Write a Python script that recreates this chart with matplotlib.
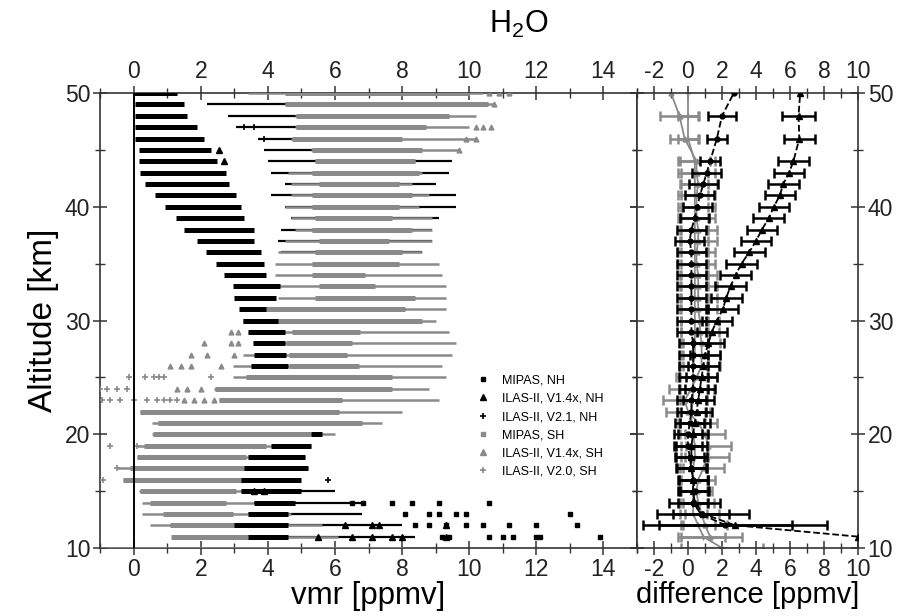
import numpy as np
import matplotlib.pyplot as plt
from matplotlib.ticker import MultipleLocator

plt.rcParams['font.family'] = ['Liberation Sans Narrow', 'Liberation Sans', 'DejaVu Sans']
plt.rcParams['axes.unicode_minus'] = False

BLACK = '#000000'
GRAY = '#8a8a8a'

# ---- left panel: vmr bands per altitude (km, ppmv) ----
# MIPAS NH, dense black band
nh_alt = [50, 49, 48, 47, 46, 45, 44, 43, 42, 41, 40, 39, 38, 37, 36, 35, 34, 33, 32, 31,
          30, 29, 28, 27, 26, 20, 19, 18, 17, 16, 15, 14, 13, 12, 11]
nh_lo = [0.0, 0.05, 0.05, 0.05, 0.05, 0.15, 0.15, 0.2, 0.35, 0.65, 0.95, 1.25, 1.5, 1.9, 2.15,
         2.45, 2.7, 2.95, 3.0, 3.15, 3.25, 3.4, 3.55, 3.6, 3.5, 5.3, 4.1, 3.4, 3.3, 3.2, 3.2,
         3.6, 3.4, 3.0, 3.4]
nh_hi = [1.3, 1.5, 1.6, 1.9, 2.1, 2.3, 2.5, 2.75, 2.85, 3.05, 3.2, 3.3, 3.6, 3.6, 3.8, 3.9,
         3.95, 4.35, 4.25, 3.95, 4.3, 4.5, 4.5, 4.55, 4.6, 5.6, 5.3, 5.1, 5.2, 5.0, 5.0, 4.8,
         4.6, 4.6, 4.6]

# ILAS-II V2.1 NH, sparse black spread
v21_alt = [49, 48, 47, 46, 45, 44, 43, 42, 41, 40, 39, 38, 37, 36, 15, 14, 13, 12, 11]
v21_lo = [2.2, 2.8, 3.05, 3.7, 3.9, 4.0, 4.1, 4.5, 4.1, 4.5, 4.7, 4.4, 4.3, 4.4, 3.2, 3.6, 3.4, 2.9, 3.4]
v21_hi = [4.6, 4.9, 4.9, 4.8, 5.4, 9.5, 9.4, 9.0, 9.6, 9.6, 9.1, 8.9, 8.9, 8.6, 6.0, 6.9, 6.8, 8.0, 8.4]

# MIPAS SH, gray band: full spread and dense core
sh_alt = [50, 49, 48, 47, 46, 45, 44, 43, 42, 41, 40, 39, 38, 37, 36, 35, 34, 33, 32, 31, 30,
          29, 28, 27, 26, 25, 24, 23, 22, 21, 20, 19, 18, 17, 16, 15, 14, 13, 12, 11, 10]
sh_lo = [3.4, 4.5, 4.8, 4.8, 4.7, 5.3, 5.4, 4.6, 4.7, 4.7, 4.5, 4.7, 4.8, 4.5, 4.3, 4.2, 4.2,
         4.1, 4.3, 3.35, 3.25, 3.4, 3.55, 3.25, 2.96, 2.96, 2.4, 2.56, 0.2, 0.54, 0.54, 0.1,
         0.1, -0.5, -0.3, 0.15, 0.25, 0.25, 0.49, 1.15, -0.99]
sh_hi = [10.4, 10.75, 10.2, 10.0, 10.2, 9.7, 8.4, 8.6, 8.3, 8.8, 8.5, 8.9, 8.9, 8.9, 8.6, 9.1,
         9.2, 9.3, 9.3, 9.3, 9.0, 9.4, 9.6, 9.5, 9.2, 9.3, 8.8, 9.1, 8.0, 7.4, 6.0, 5.3, 5.1,
         5.2, 4.9, 4.1, 3.6, 4.7, 5.6, 6.1, 8.0]
sh_core_lo = [4.5, 4.5, 4.83, 4.83, 4.73, 5.33, 5.42, 5.33, 5.52, 5.33, 5.33, 5.42, 5.33, 5.52,
              5.42, 5.33, 5.33, 5.52, 5.42, 3.35, 3.25, 4.73, 4.54, 4.64, 4.64, 3.35, 2.42,
              2.56, 0.2, 0.74, 0.59, 0.3, 0.1, -0.1, -0.3, 0.2, 0.49, 0.89, 1.08, 1.13, np.nan]
sh_core_hi = [10.0, 10.55, 9.4, 8.7, 8.0, 8.6, 8.4, 8.5, 7.9, 8.3, 7.9, 7.7, 8.3, 7.6, 8.0,
              7.9, 6.9, 7.2, 8.4, 8.1, 8.6, 6.76, 6.51, 6.36, 6.71, 7.69, 7.69, 6.21, 6.11,
              6.8, 5.3, 3.94, 3.35, 3.35, 3.25, 3.06, 2.76, 2.96, 3.75, 4.54, np.nan]

# isolated profiles
nh_pt_alt = [14, 14, 14, 14, 14, 14, 13, 13, 13, 13, 13, 13, 12, 12, 12, 12, 12, 12, 12, 12,
             11, 11, 11, 11, 11, 11, 11, 11]
nh_pt_x = [6.5, 6.85, 7.7, 8.3, 9.1, 10.6, 8.1, 8.8, 9.1, 9.6, 9.9, 13.0, 8.4, 8.8, 9.3, 9.9,
           10.4, 11.2, 12.0, 13.2, 9.2, 9.4, 10.6, 11.0, 11.3, 12.0, 12.1, 13.9]
v14nh_pt_alt = [11, 11, 11, 11, 11, 11, 12, 12, 12, 12, 15, 15, 45, 44]
v14nh_pt_x = [5.5, 6.5, 7.1, 7.7, 8.0, 9.3, 6.3, 7.1, 7.3, 9.3, 3.6, 3.9, 2.55, 2.7]
v21_pt_alt = [16, 47, 47, 46]
v21_pt_x = [5.8, 3.3, 3.6, 3.9]
v14sh_pt_alt = [50, 50, 50, 49, 47, 47, 47, 46, 46, 45, 29, 29, 28, 28, 28, 27, 27, 27,
                26, 26, 26, 26, 24, 24, 24, 23, 23, 23, 23]
v14sh_pt_x = [10.6, 10.9, 11.2, 10.75, 10.2, 10.4, 10.65, 9.9, 10.2, 9.7, 2.9, 3.1, 2.1, 2.9,
              3.1, 1.7, 2.2, 3.0, 1.1, 1.4, 1.7, 2.6, 1.3, 1.6, 2.0, 1.5, 1.8, 2.1, 2.4]
v20sh_pt_alt = [25, 25, 25, 25, 25, 25, 24, 24, 24, 24, 23, 23, 23, 23, 23, 23, 23, 23, 23,
                19, 19, 17, 16]
v20sh_pt_x = [-0.15, 0.35, 0.6, 0.75, 0.9, 2.3, -1.0, -0.8, -0.5, -0.2, -0.95, -0.7, -0.4,
              0.0, 0.4, 0.7, 0.9, 1.1, 1.3, -0.7, 0.1, -0.5, -0.9]

# ---- right panel: differences (ppmv) ----
diff_alt = [10, 11, 12, 13, 14, 15, 16, 17, 18, 19, 20, 21, 22, 23, 24, 25, 26, 27, 28, 29,
            30, 31, 32, 33, 34, 35, 36, 37, 38, 39, 40, 41, 42, 43, 44, 46, 48, 50]
v14nh_diff = [np.nan, 10.0, 2.75, 0.9, 0.4, 0.3, 0.3, 0.2, 0.2, 0.2, 0.3, 0.4, 0.5, 0.6, 0.7,
              0.8, 0.9, 1.0, 1.2, 1.4, 1.7, 2.05, 2.25, 2.5, 2.8, 3.15, 3.6, 4.0, 4.35, 4.75,
              5.05, 5.4, 5.6, 5.95, 6.2, 6.55, 6.5, 6.6]
v14nh_err = [np.nan, np.nan, 5.4, 2.7, 1.5, 0.9, 0.9, 0.9, 0.9, 0.9, 0.9, 0.9, 0.9, 0.9, 0.9,
             0.9, 0.9, 0.9, 0.9, 0.9, 0.9, 0.9, 0.9, 0.9, 0.9, 0.9, 0.9, 0.9, 0.9, 0.9, 0.9,
             0.9, 0.9, 0.9, 0.9, 0.9, 0.95, np.nan]
v21nh_diff = [np.nan, np.nan, 2.2, 0.75, 0.3, 0.4, 0.3, 0.2, 0.1, 0.0, 0.0, 0.1, 0.2, 0.2,
              0.3, 0.3, 0.3, 0.3, 0.3, 0.2, 0.2, 0.2, 0.2, 0.2, 0.2, 0.2, 0.2, 0.1, 0.2, 0.4,
              0.55, 0.7, 0.9, 1.1, 1.3, 1.7, 2.0, 2.7]
v21nh_err = [np.nan, np.nan, 3.9, 1.65, 0.9, 0.85, 0.85, 0.85, 0.85, 0.85, 0.85, 0.85, 0.85,
             0.85, 0.85, 0.85, 0.85, 0.85, 0.85, 0.85, 0.85, 0.85, 0.85, 0.85, 0.85, 0.85,
             0.85, 0.85, 0.85, 0.85, 0.85, 0.85, 0.85, 0.85, 0.6, 0.6, 0.8, np.nan]
v14sh_diff = [np.nan, 1.3, 1.0, 0.8, 0.6, 0.5, 0.6, 0.9, 1.1, 1.2, 1.0, 0.6, 0.0, -0.2, 0.2,
              0.5, 0.8, 0.8, 0.8, 0.7, 0.7, 0.6, 0.6, 0.6, 0.6, 0.5, 0.5, 0.6, 0.6, 0.5, 0.5,
              0.5, 0.6, 0.5, 0.5, -0.2, -0.5, -1.0]
v14sh_err = [np.nan, 1.9, 1.3, 1.0, 0.9, 0.9, 1.0, 1.2, 1.3, 1.3, 1.2, 1.1, 1.3, 1.3, 1.3,
             1.2, 1.1, 1.1, 1.1, 1.1, 1.1, 1.1, 1.1, 1.1, 1.1, 1.1, 1.1, 1.1, 1.1, 1.1, 1.1,
             1.1, 1.1, 1.1, 1.1, 0.85, 1.15, np.nan]
v20sh_diff = [2.0, 0.9, 0.6, 0.3, 0.3, 0.3, 0.3, 0.3, 0.4, 0.4, 0.3, 0.2, 0.2, 0.3, 0.3, 0.3,
              0.3, 0.4, 0.4, 0.4, 0.4, 0.4, 0.4, 0.4, 0.4, 0.4, 0.4, 0.4, 0.4, 0.4, 0.4, 0.4,
              0.4, 0.4, 0.4, 0.0, 0.0, 0.0]
v20sh_err = [2.4, 1.3, 1.0, 0.8, 0.8, 0.8, 0.8, 0.8, 0.8, 0.8, 0.8, 0.8, 0.8, 0.8, 0.8, 0.8,
             0.8, 0.8, 0.8, 0.8, 0.8, 0.8, 0.8, 0.8, 0.8, 0.8, 0.8, 0.8, 0.8, 0.8, 0.8, 0.8,
             0.8, 0.8, 0.9, 0.6, 0.6, np.nan]

legend_labels = ['MIPAS, NH', 'ILAS-II, V1.4x, NH', 'ILAS-II, V2.1, NH',
                 'MIPAS, SH', 'ILAS-II, V1.4x, SH', 'ILAS-II, V2.0, SH']

fig = plt.figure(figsize=(9.01, 6.16), dpi=100)
ax1 = fig.add_axes([100 / 901, 1 - 548 / 616, 537 / 901, 455 / 616])
ax2 = fig.add_axes([637 / 901, 1 - 548 / 616, 221 / 901, 455 / 616])

# left panel
ax1.axvline(0, color=BLACK, lw=1.4, zorder=6)
ax1.hlines(v21_alt, v21_lo, v21_hi, colors=BLACK, linewidth=1.6, zorder=2)
ax1.hlines(sh_alt, sh_lo, sh_hi, colors=GRAY, linewidth=1.8, zorder=3)
ax1.hlines(sh_alt, sh_core_lo, sh_core_hi, colors=GRAY, linewidth=3.6, zorder=3)
ax1.hlines(nh_alt, nh_lo, nh_hi, colors=BLACK, linewidth=3.6, zorder=4)
ax1.plot(nh_pt_x, nh_pt_alt, 's', color=BLACK, ms=2.5, zorder=5)
ax1.plot(v14nh_pt_x, v14nh_pt_alt, '^', color=BLACK, ms=4, zorder=5)
ax1.plot(v21_pt_x, v21_pt_alt, '+', color=BLACK, ms=4, mew=1.2, zorder=5)
ax1.plot(v14sh_pt_x, v14sh_pt_alt, '^', color=GRAY, ms=3.5, zorder=5)
ax1.plot(v20sh_pt_x, v20sh_pt_alt, '+', color=GRAY, ms=4, mew=1.2, zorder=5)

handles = [
    plt.Line2D([], [], ls='none', marker='s', ms=2.5, color=BLACK),
    plt.Line2D([], [], ls='none', marker='^', ms=4, color=BLACK),
    plt.Line2D([], [], ls='none', marker='+', ms=4, mew=1.2, color=BLACK),
    plt.Line2D([], [], ls='none', marker='s', ms=2.5, color=GRAY),
    plt.Line2D([], [], ls='none', marker='^', ms=4, color=GRAY),
    plt.Line2D([], [], ls='none', marker='+', ms=4, mew=1.2, color=GRAY),
]
ax1.legend(handles, legend_labels, loc='upper left', bbox_to_anchor=(0.69, 0.395),
           frameon=False, prop={'family': 'Liberation Sans', 'size': 9},
           handlelength=1.0, handletextpad=1.0, labelspacing=0.5, borderpad=0)

ax1.set_xlim(-1, 15)
ax1.set_ylim(10, 50)
ax1.xaxis.set_major_locator(MultipleLocator(2))
ax1.xaxis.set_minor_locator(MultipleLocator(1))
ax1.yaxis.set_major_locator(MultipleLocator(10))
ax1.yaxis.set_minor_locator(MultipleLocator(5))
ax1.set_xlabel('vmr [ppmv]', fontsize=22.5, labelpad=0)
ax1.set_ylabel('Altitude [km]', fontsize=24, labelpad=4)

# right panel
ax2.errorbar(v20sh_diff, diff_alt, xerr=v20sh_err, color=GRAY, lw=1.3, elinewidth=1.8,
             capsize=3.5, capthick=1.8, marker='+', ms=4, zorder=2)
ax2.errorbar(v14sh_diff, diff_alt, xerr=v14sh_err, color=GRAY, lw=1.3, elinewidth=1.8,
             capsize=3.5, capthick=1.8, marker='^', ms=3.5, zorder=2)
ax2.errorbar(v21nh_diff, diff_alt, xerr=v21nh_err, color=BLACK, ls='--', lw=1.3,
             elinewidth=1.8, capsize=3.5, capthick=1.8, marker='o', ms=3.5, zorder=3)
ax2.errorbar(v14nh_diff, diff_alt, xerr=v14nh_err, color=BLACK, ls='--', lw=1.3,
             elinewidth=1.8, capsize=3.5, capthick=1.8, marker='^', ms=5, zorder=3)

ax2.set_xlim(-3, 10)
ax2.set_ylim(10, 50)
ax2.xaxis.set_major_locator(MultipleLocator(2))
ax2.xaxis.set_minor_locator(MultipleLocator(1))
ax2.yaxis.set_major_locator(MultipleLocator(10))
ax2.yaxis.set_minor_locator(MultipleLocator(5))
ax2.set_xlabel('difference [ppmv]', fontsize=21, labelpad=0)

for ax in (ax1, ax2):
    ax.tick_params(which='both', direction='inout', top=True, bottom=True, left=True,
                   right=True, labeltop=True, labelbottom=True, labelsize=16.5,
                   color='#333333', labelcolor='#222222', pad=2)
    ax.tick_params(which='major', length=10, width=1.1)
    ax.tick_params(which='minor', length=7, width=1.0)
    for sp in ax.spines.values():
        sp.set_color('#333333')
        sp.set_linewidth(1.2)
ax1.tick_params(labelright=False, labelleft=True)
ax2.tick_params(labelleft=False, labelright=True)

fig.text(519 / 901, 1 - 33 / 616, 'H$_\\mathregular{2}$O', ha='center', va='baseline',
         fontsize=22)

fig.savefig('out.png', dpi=100)
